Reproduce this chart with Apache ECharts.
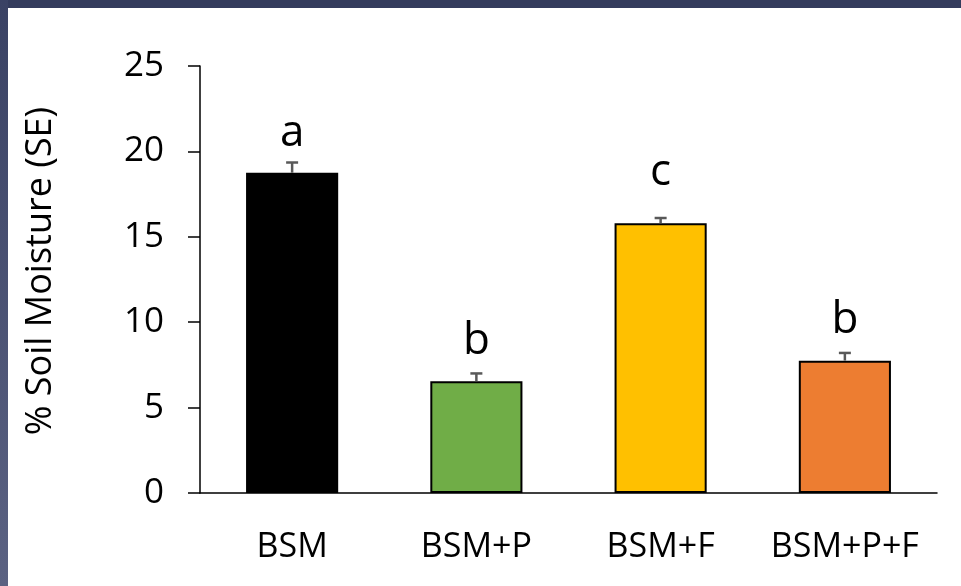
<!DOCTYPE html>
<html>
<head>
<meta charset="utf-8">
<script src="https://cdn.jsdelivr.net/npm/echarts@6/dist/echarts.min.js"></script>
<style>
  html, body { margin: 0; padding: 0; background: #ffffff; }
  #chart { position: absolute; left: 0; top: 0; width: 961px; height: 586px; }
  #topbar { position: absolute; left: 0; top: 0; width: 961px; height: 8px; background: #343c5d; z-index: 5; }
  #leftbar { position: absolute; left: 0; top: 0; width: 8px; height: 586px; background: linear-gradient(#3a4264, #5b6282); z-index: 5; }
</style>
</head>
<body>
<div id="chart"></div>
<div id="topbar"></div>
<div id="leftbar"></div>
<script>
// ---- data ----
var categories = ['BSM', 'BSM+P', 'BSM+F', 'BSM+P+F'];
var means = [18.75, 6.55, 15.8, 7.75];
var stdErrors = [0.6, 0.45, 0.3, 0.45];
var letters = ['a', 'b', 'c', 'b'];
var yTicks = [0, 5, 10, 15, 20, 25];

// ---- styles ----
var barColors = ['#000000', '#70ad47', '#ffc000', '#ed7d31'];
var letterLift = [7, 10, 24, 10];
var FONT = '"Open Sans", "DejaVu Sans", sans-serif';

var chart = echarts.init(document.getElementById('chart'), null, { renderer: 'canvas' });

var barData = means.map(function (v, i) {
  return { value: v, itemStyle: { color: barColors[i] } };
});
var errData = means.map(function (v, i) { return [i, v, stdErrors[i]]; });

chart.setOption({
  backgroundColor: '#ffffff',
  animation: false,
  grid: { left: 200, right: 24, top: 66, bottom: 93 },
  graphic: [{
    type: 'text',
    x: 41, y: 271,
    rotation: Math.PI / 2,
    style: {
      text: '% Soil Moisture (SE)',
      font: '36px ' + FONT,
      fill: '#000000',
      textAlign: 'center',
      textVerticalAlign: 'middle'
    }
  }],
  xAxis: {
    type: 'category',
    data: categories,
    axisLine: { show: true, lineStyle: { color: '#000000', width: 1.5 } },
    axisTick: { show: false },
    axisLabel: { color: '#000000', fontSize: 34, fontFamily: FONT, margin: 37, interval: 0, hideOverlap: false }
  },
  yAxis: {
    type: 'value',
    min: yTicks[0],
    max: yTicks[yTicks.length - 1],
    interval: yTicks[1] - yTicks[0],
    axisLine: { show: true, lineStyle: { color: '#000000', width: 1.5 } },
    axisTick: { show: true, length: 12, lineStyle: { color: '#000000', width: 1.5 } },
    splitLine: { show: false },
    axisLabel: { color: '#000000', fontSize: 35, fontFamily: FONT, margin: 36 }
  },
  series: [
    {
      type: 'bar',
      data: barData,
      barWidth: '50%',
      itemStyle: { borderColor: '#000000', borderWidth: 2 }
    },
    {
      type: 'custom',
      coordinateSystem: 'cartesian2d',
      data: errData,
      encode: { x: 0, y: 1 },
      z: 10,
      renderItem: function (params, api) {
        var idx = api.value(0);
        var m = api.value(1);
        var se = api.value(2);
        var top = api.coord([idx, m + se]);
        var base = api.coord([idx, m]);
        var hw = 6;
        return {
          type: 'group',
          children: [
            { type: 'line', shape: { x1: top[0], y1: base[1], x2: top[0], y2: top[1] },
              style: { stroke: '#595959', lineWidth: 2.5 } },
            { type: 'line', shape: { x1: top[0] - hw, y1: top[1], x2: top[0] + hw, y2: top[1] },
              style: { stroke: '#595959', lineWidth: 2.5 } },
            { type: 'text', x: top[0], y: top[1] - letterLift[params.dataIndex],
              style: { text: letters[params.dataIndex], font: '44px ' + FONT, fill: '#000000',
                       textAlign: 'center', textVerticalAlign: 'bottom' } }
          ]
        };
      }
    }
  ]
});
</script>
</body>
</html>
